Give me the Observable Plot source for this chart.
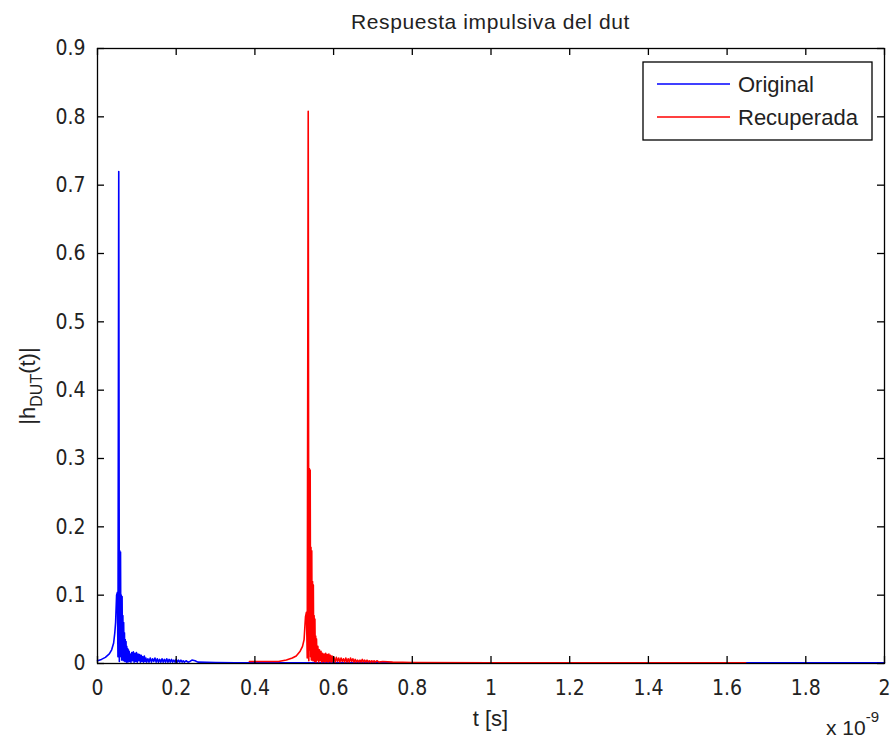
<!DOCTYPE html>
<html>
<head>
<meta charset="utf-8">
<script src="https://cdn.jsdelivr.net/npm/d3@7"></script>
<script src="https://cdn.jsdelivr.net/npm/@observablehq/plot@0.6"></script>
<style>
  html, body { margin: 0; padding: 0; background: #fff; }
  #chart svg { display: block; }
</style>
</head>
<body>
<div id="chart"></div>
<script>
// ---- Data (t in units of 1e-9 s) ----
const seriesNames = ["Original", "Recuperada"];
const seriesColors = ["#0000ff", "#ff0000"];

const origT = [0.000, 0.010, 0.020, 0.030, 0.036, 0.041, 0.044, 0.046, 0.0485, 0.0505, 0.052, 0.054, 0.0555,
  0.0565, 0.0575, 0.0585, 0.0595, 0.0605, 0.0615, 0.0625, 0.0635, 0.0645, 0.0655, 0.0665, 0.0675, 0.0685, 0.0695,
  0.0705, 0.0715, 0.0725, 0.0735, 0.0745, 0.0755, 0.0765, 0.0775, 0.0785, 0.0795, 0.0805, 0.0815, 0.083, 0.085,
  0.087, 0.089, 0.091, 0.093, 0.095, 0.097, 0.099, 0.101, 0.103, 0.105, 0.107, 0.109, 0.111, 0.113, 0.115, 0.117,
  0.119, 0.121, 0.123, 0.125, 0.128, 0.131, 0.134, 0.137, 0.140, 0.143, 0.146, 0.149, 0.152, 0.155, 0.158, 0.161,
  0.164, 0.167, 0.170, 0.173, 0.176, 0.179, 0.182, 0.185, 0.188, 0.191, 0.194, 0.197, 0.200, 0.203, 0.206, 0.209,
  0.212, 0.215, 0.218, 0.221, 0.225, 0.230, 0.235, 0.240, 0.248, 0.255, 0.300, 0.350, 0.400, 0.600, 0.800, 1.000,
  1.200, 1.400, 1.600, 1.800, 2.000];
const origH = [0.004, 0.006, 0.009, 0.014, 0.020, 0.030, 0.045, 0.060, 0.100, 0.104, 0.010, 0.720, 0.003,
  0.165, 0.020, 0.163, 0.010, 0.100, 0.005, 0.098, 0.010, 0.070, 0.004, 0.060, 0.008, 0.045, 0.003,
  0.035, 0.006, 0.032, 0.002, 0.025, 0.005, 0.022, 0.002, 0.020, 0.004, 0.018, 0.003, 0.014, 0.002,
  0.016, 0.004, 0.017, 0.002, 0.015, 0.003, 0.016, 0.002, 0.014, 0.004, 0.013, 0.002, 0.012, 0.003, 0.010, 0.002,
  0.011, 0.003, 0.008, 0.002, 0.007, 0.002, 0.008, 0.002, 0.007, 0.003, 0.008, 0.002, 0.007, 0.002, 0.006, 0.002,
  0.007, 0.002, 0.006, 0.002, 0.007, 0.002, 0.006, 0.002, 0.006, 0.002, 0.005, 0.002, 0.006, 0.002, 0.005, 0.002,
  0.005, 0.002, 0.004, 0.002, 0.004, 0.002, 0.003, 0.005, 0.004, 0.002, 0.0015, 0.0012, 0.001, 0.001, 0.001, 0.001,
  0.001, 0.001, 0.001, 0.001, 0.001];

const recT = [0.386, 0.420, 0.460, 0.480, 0.495, 0.505, 0.515, 0.521, 0.525, 0.5285, 0.531, 0.533, 0.5355, 0.537,
  0.5385, 0.5395, 0.5405, 0.5415, 0.5425, 0.5435, 0.5445, 0.5455, 0.5465, 0.5475, 0.5485, 0.5495, 0.5505, 0.5515,
  0.5525, 0.5535, 0.5545, 0.5555, 0.5565, 0.558, 0.560, 0.562, 0.564, 0.566, 0.568, 0.570, 0.572, 0.574, 0.576,
  0.578, 0.580, 0.582, 0.584, 0.586, 0.588, 0.590, 0.592, 0.594, 0.596, 0.598, 0.601, 0.604, 0.607, 0.610, 0.613,
  0.616, 0.619, 0.622, 0.625, 0.628, 0.631, 0.634, 0.637, 0.640, 0.643, 0.646, 0.649, 0.652, 0.655, 0.658, 0.661,
  0.664, 0.667, 0.670, 0.673, 0.676, 0.679, 0.682, 0.685, 0.688, 0.691, 0.694, 0.697, 0.700, 0.703, 0.706, 0.710,
  0.715, 0.725, 0.750, 0.800, 1.000, 1.200, 1.400, 1.647];
const recH = [0.003, 0.003, 0.003, 0.005, 0.008, 0.011, 0.018, 0.025, 0.035, 0.068, 0.075, 0.008, 0.808, 0.004,
  0.285, 0.020, 0.283, 0.010, 0.170, 0.005, 0.165, 0.010, 0.120, 0.004, 0.115, 0.008, 0.070, 0.003,
  0.065, 0.006, 0.040, 0.002, 0.036, 0.005, 0.025, 0.002, 0.020, 0.004, 0.018, 0.002, 0.015, 0.003, 0.014,
  0.002, 0.015, 0.003, 0.013, 0.002, 0.014, 0.003, 0.012, 0.002, 0.011, 0.003, 0.009, 0.002, 0.009, 0.003, 0.008,
  0.002, 0.008, 0.003, 0.007, 0.002, 0.008, 0.002, 0.007, 0.002, 0.008, 0.003, 0.007, 0.002, 0.006, 0.002, 0.005,
  0.002, 0.005, 0.002, 0.006, 0.002, 0.005, 0.002, 0.005, 0.002, 0.004, 0.002, 0.004, 0.002, 0.004, 0.002, 0.004,
  0.002, 0.003, 0.002, 0.0015, 0.001, 0.001, 0.001, 0.001];

const xTicks = [0, 0.2, 0.4, 0.6, 0.8, 1, 1.2, 1.4, 1.6, 1.8, 2];
const yTicks = [0, 0.1, 0.2, 0.3, 0.4, 0.5, 0.6, 0.7, 0.8, 0.9];

const titleText = "Respuesta impulsiva del dut";
const xLabel = "t [s]";
const xExponent = "-9";

// ---- Layout ----
const W = 890, H = 738;
const mL = 97, mR = 6, mT = 48, mB = 75;
const pw = W - mL - mR, ph = H - mT - mB;
const tickLen = 7;

const orig = origT.map((t, i) => ({t, h: origH[i]}));
const rec = recT.map((t, i) => ({t, h: recH[i]}));

const chart = Plot.plot({
  width: W, height: H,
  marginLeft: mL, marginRight: mR, marginTop: mT, marginBottom: mB,
  style: {fontFamily: "'Liberation Sans Narrow', 'DejaVu Sans Condensed', 'Liberation Sans', sans-serif", fontSize: "21px", color: "#000", background: "#fff"},
  x: {domain: [0, 2]},
  y: {domain: [0, 0.9]},
  marks: [
    Plot.line(orig, {x: "t", y: "h", stroke: seriesColors[0], strokeWidth: 1.6}),
    Plot.line(rec, {x: "t", y: "h", stroke: seriesColors[1], strokeWidth: 1.6}),
    Plot.frame({stroke: "#000", strokeWidth: 1.3}),
    Plot.tickX(xTicks, {x: d => d, stroke: "#000", strokeWidth: 1.3, insetTop: ph - tickLen}),
    Plot.tickX(xTicks, {x: d => d, stroke: "#000", strokeWidth: 1.3, insetBottom: ph - tickLen}),
    Plot.tickY(yTicks, {y: d => d, stroke: "#000", strokeWidth: 1.3, insetRight: pw - tickLen}),
    Plot.tickY(yTicks, {y: d => d, stroke: "#000", strokeWidth: 1.3, insetLeft: pw - tickLen}),
    Plot.axisX(xTicks, {tickSize: 0, tickPadding: 17, tickFormat: d => String(d), label: null, fill: "#222"}),
    Plot.axisY(yTicks, {tickSize: 0, tickPadding: 12, tickFormat: d => String(d), label: null, fill: "#222"})
  ]
});

document.getElementById("chart").appendChild(chart);

const svg = d3.select(chart);
const sans = "'Liberation Sans', Arial, sans-serif";
const cx = mL + pw / 2;

// Title
svg.append("text").attr("x", cx).attr("y", 29).attr("text-anchor", "middle")
  .attr("font-family", sans).attr("font-size", 21).attr("letter-spacing", "0.6px").attr("fill", "#222").text(titleText);

// X label
svg.append("text").attr("x", cx).attr("y", 726).attr("text-anchor", "middle")
  .attr("font-family", sans).attr("font-size", 22).attr("fill", "#222").text(xLabel);

// Exponent
const ex = svg.append("text").attr("x", 826).attr("y", 735).attr("text-anchor", "start")
  .attr("font-family", sans).attr("font-size", 21).attr("fill", "#222");
ex.append("tspan").text("x 10");
ex.append("tspan").attr("dy", -13).attr("font-size", 15).text(xExponent);

// Y label
const yl = svg.append("text").attr("transform", `translate(35,386) rotate(-90)`).attr("text-anchor", "middle")
  .attr("font-family", sans).attr("font-size", 22).attr("fill", "#222");
yl.append("tspan").text("|h");
yl.append("tspan").attr("dy", 7).attr("font-size", 16).text("DUT");
yl.append("tspan").attr("dy", -7).text("(t)|");

// Legend
const lg = svg.append("g");
lg.append("rect").attr("x", 643).attr("y", 62).attr("width", 229).attr("height", 78)
  .attr("fill", "#fff").attr("stroke", "#000").attr("stroke-width", 1.3);
seriesNames.forEach((name, i) => {
  const yy = 84 + i * 33;
  lg.append("line").attr("x1", 657).attr("x2", 730).attr("y1", yy).attr("y2", yy)
    .attr("stroke", seriesColors[i]).attr("stroke-width", 1.5);
  lg.append("text").attr("x", 738).attr("y", yy).attr("dy", "0.35em").attr("text-anchor", "start")
    .attr("font-family", sans).attr("font-size", 22).attr("fill", "#222").text(name);
});
</script>
</body>
</html>
